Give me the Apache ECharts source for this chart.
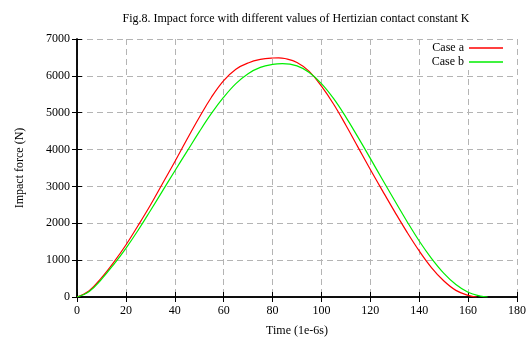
<!DOCTYPE html>
<html>
<head>
<meta charset="utf-8">
<script src="https://cdn.jsdelivr.net/npm/echarts@6/dist/echarts.min.js"></script>
<style>
  html, body { margin: 0; padding: 0; background: #fff; }
  #chart { width: 529px; height: 342px; }
</style>
</head>
<body>
<div id="chart"></div>
<script>
// values (time in 1e-6 s, force in N)
const timeA = [0, 5, 10, 15, 20, 25, 30, 35, 40, 45, 50, 55, 60, 65, 70, 75, 80, 82.5, 85, 90, 95, 100, 105, 110, 115, 120, 125, 130, 135, 140, 145, 150, 155, 160, 163.5];
const forceA = [0, 170, 520, 940, 1410, 1940, 2490, 3080, 3670, 4280, 4870, 5420, 5870, 6180, 6350, 6445, 6485, 6490, 6470, 6360, 6120, 5720, 5230, 4660, 4060, 3460, 2880, 2310, 1760, 1250, 800, 440, 180, 45, 0];

const timeB = [0, 5, 10, 15, 20, 25, 30, 35, 40, 45, 50, 55, 60, 65, 70, 75, 80, 84, 90, 95, 100, 105, 110, 115, 120, 125, 130, 135, 140, 145, 150, 155, 160, 165, 168];
const forceB = [0, 150, 480, 880, 1320, 1810, 2340, 2880, 3420, 3950, 4480, 4980, 5420, 5790, 6060, 6230, 6310, 6330, 6270, 6090, 5790, 5380, 4880, 4330, 3760, 3180, 2610, 2050, 1520, 1050, 650, 340, 130, 25, 0];

const seriesNames = ['Case a', 'Case b'];

const chart = echarts.init(document.getElementById('chart'));
const font = 'Liberation Serif';

const pairs = (xs, ys) => xs.map((x, i) => [x, ys[i]]);

const dashed = { show: true, lineStyle: { color: '#b4b4b4', type: [6, 4], width: 1 } };
const frame = { show: true, lineStyle: { color: '#000', width: 1.5 } };
const inTick = { show: true, inside: true, length: 5, lineStyle: { color: '#000', width: 1 } };

const option = {
    animation: false,
    backgroundColor: '#fff',
    title: {
        text: 'Fig.8. Impact force with different values of Hertizian contact constant K',
        left: 291,
        textAlign: 'center',
        top: 8,
        textStyle: { fontFamily: font, fontSize: 12, fontWeight: 'normal', color: '#000' }
    },
    legend: {
        data: seriesNames,
        icon: 'path://M0,0H35V1.3H0Z',
        symbolKeepAspect: true,
        orient: 'vertical',
        align: 'right',
        right: 21,
        top: 40,
        padding: [2, 5, 2, 5],
        backgroundColor: '#fff',
        itemGap: 2,
        itemWidth: 34,
        itemHeight: 12,
        textStyle: { fontFamily: font, fontSize: 12, color: '#000' }
    },
    grid: { left: 77, right: 12, top: 39, bottom: 41 },
    xAxis: [{
        type: 'value',
        min: 0, max: 180, interval: 20,
        name: 'Time (1e-6s)',
        nameLocation: 'middle',
        nameGap: 28,
        nameTextStyle: { fontFamily: font, fontSize: 12, color: '#000' },
        axisLine: frame,
        axisTick: inTick,
        axisLabel: { fontFamily: font, fontSize: 12, color: '#000', margin: 8 },
        splitLine: dashed
    }, {
        type: 'value',
        position: 'top',
        min: 0, max: 180, interval: 20,
        axisLine: frame,
        axisTick: inTick,
        axisLabel: { show: false },
        splitLine: { show: false }
    }],
    yAxis: [{
        type: 'value',
        min: 0, max: 7000, interval: 1000,
        name: 'Impact force (N)',
        nameLocation: 'middle',
        nameGap: 51,
        nameTextStyle: { fontFamily: font, fontSize: 12, color: '#000' },
        axisLine: frame,
        axisTick: inTick,
        axisLabel: {
            fontFamily: font, fontSize: 12, color: '#000', margin: 7,
            formatter: v => String(v)
        },
        splitLine: dashed
    }, {
        type: 'value',
        position: 'right',
        min: 0, max: 7000, interval: 1000,
        axisLine: frame,
        axisTick: inTick,
        axisLabel: { show: false },
        splitLine: { show: false }
    }],
    series: [
        {
            name: seriesNames[0],
            type: 'line',
            smooth: 0.4,
            symbol: 'none',
            color: '#ff0000',
            lineStyle: { width: 1.2 },
            data: pairs(timeA, forceA)
        },
        {
            name: seriesNames[1],
            type: 'line',
            smooth: 0.4,
            symbol: 'none',
            color: '#00ee00',
            lineStyle: { width: 1.2 },
            data: pairs(timeB, forceB)
        }
    ]
};

chart.setOption(option);
</script>
</body>
</html>
